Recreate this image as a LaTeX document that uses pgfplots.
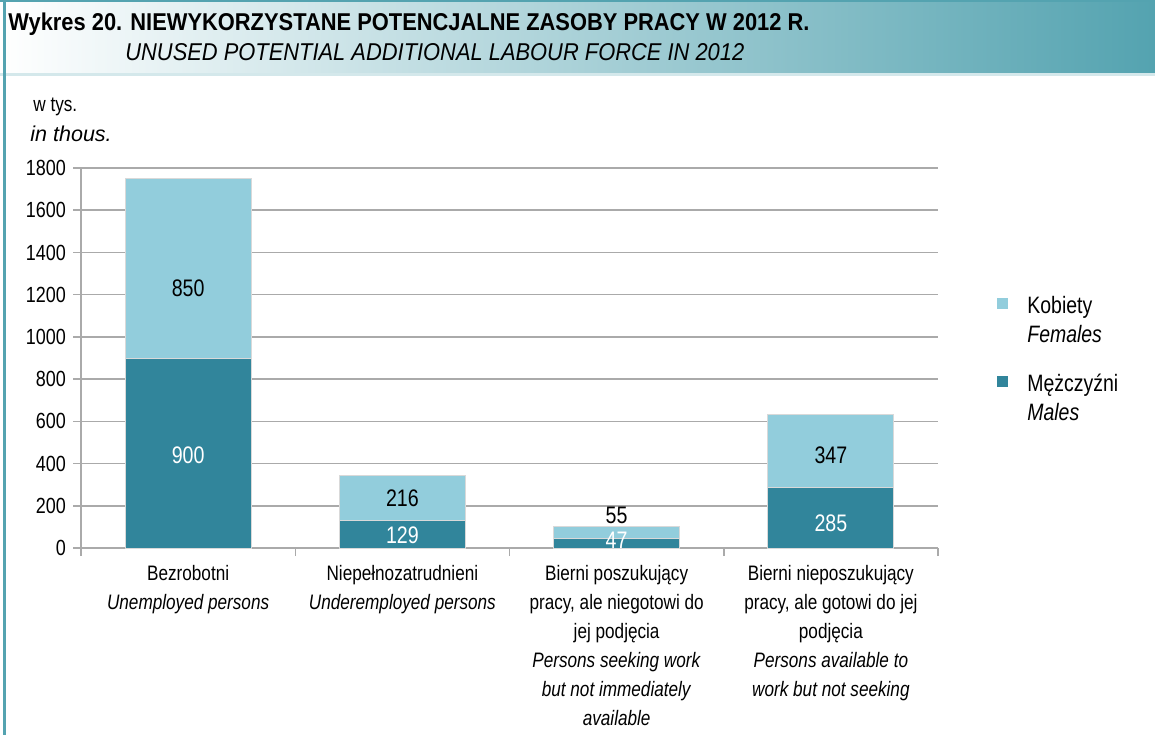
\documentclass[border=0pt]{standalone}
\usepackage{fontspec}
\setmainfont{Liberation Sans}[FakeStretch=0.82]
\newfontfamily\titlefont{Liberation Sans}[FakeStretch=0.9]
\newfontfamily\widefont{Liberation Sans}
\usepackage{pgfplots}
\pgfplotsset{compat=1.18}

\definecolor{males}{RGB}{49,133,155}
\definecolor{females}{RGB}{146,205,220}
\definecolor{hdr}{RGB}{84,163,176}
\definecolor{gridc}{RGB}{170,170,170}
\definecolor{barborder}{RGB}{217,217,217}

\newcommand{\lblfont}{\fontsize{10.5}{14.5}\selectfont}
\newcommand{\legfont}{\fontsize{11.9}{14.5}\selectfont}
\newcommand{\valfont}{\fontsize{12}{14}\selectfont}

\begin{document}
\begin{tikzpicture}
% frame, header and legend, pixel units (y down)
\begin{scope}[x=0.5bp,y=-0.5bp]
  \path (0,0) rectangle (1155,735);
  \shade[left color=white, middle color=hdr!45, right color=hdr] (0,0) rectangle (1155,73);
  \fill[hdr] (0,0) rectangle (1155,2);
  \fill[hdr!25] (0,73) rectangle (1155,76);
  \fill[hdr] (3,0) rectangle (6,735);
  \node[anchor=base west, inner sep=0pt, font=\titlefont\bfseries\fontsize{12.2}{14}\selectfont] at (8,30)
    {Wykres 20. NIEWYKORZYSTANE POTENCJALNE ZASOBY PRACY W 2012 R.};
  \node[anchor=base west, inner sep=0pt, font=\titlefont\itshape\fontsize{12.2}{14}\selectfont] at (125,60)
    {UNUSED POTENTIAL ADDITIONAL LABOUR FORCE IN 2012};
  \node[anchor=base west, inner sep=0pt, font=\lblfont] at (33,111) {w tys.};
  \node[anchor=base west, inner sep=0pt, font=\widefont\itshape\fontsize{10.8}{13}\selectfont] at (30,141) {in thous.};
  % legend
  \fill[females] (997,298) rectangle (1008,309);
  \node[anchor=base west, inner sep=0pt, font=\legfont] at (1027,313) {Kobiety};
  \node[anchor=base west, inner sep=0pt, font=\itshape\legfont] at (1027,342) {Females};
  \fill[males] (997,376) rectangle (1008,387);
  \node[anchor=base west, inner sep=0pt, font=\legfont] at (1027,391) {Mężczyźni};
  \node[anchor=base west, inner sep=0pt, font=\itshape\legfont] at (1027,420) {Males};
\end{scope}

\begin{axis}[
    at={(40.5bp,-274bp)}, anchor=south west,
    scale only axis,
    width=428.5bp, height=190bp,
    xmin=0.5, xmax=4.5,
    ymin=0, ymax=1800,
    ybar stacked,
    bar width=63bp,
    axis lines*=left,
    axis line style={gridc, line width=0.75bp},
    ytick={0,200,...,1800},
    ymajorgrids,
    grid style={gridc, line width=0.75bp},
    tick align=outside,
    major tick length=4bp,
    y tick style={gridc, line width=0.75bp},
    x tick style={gridc, line width=0.75bp},
    xtick={0.5,1.5,2.5,3.5,4.5},
    xticklabels={{},{},{},{},{}},
    extra x ticks={1,2,3,4},
    extra x tick labels={
      {Bezrobotni\\\textit{Unemployed persons}},
      {Niepełnozatrudnieni\\\textit{Underemployed persons}},
      {Bierni poszukujący\\pracy, ale niegotowi do\\jej podjęcia\\\textit{Persons seeking work}\\\textit{but not immediately}\\\textit{available}},
      {Bierni nieposzukujący\\pracy, ale gotowi do jej\\podjęcia\\\textit{Persons available to}\\\textit{work but not seeking}}
    },
    extra x tick style={major tick length=0pt,
      xticklabel style={align=center, font=\lblfont, inner sep=0pt, yshift=-8.5bp}},
    yticklabel style={font=\fontsize{11}{13}\selectfont},
    /pgf/number format/assume math mode=true,
    /pgf/number format/1000 sep={},
]
\addplot[fill=males, draw=barborder, line width=0.5bp] coordinates {(1,900) (2,129) (3,47) (4,285)};
\addplot[fill=females, draw=barborder, line width=0.5bp] coordinates {(1,850) (2,216) (3,55) (4,347)};
\end{axis}

% value labels in an overlaid, unstacked axis
\begin{axis}[
    at={(40.5bp,-274bp)}, anchor=south west,
    scale only axis,
    width=428.5bp, height=190bp,
    xmin=0.5, xmax=4.5,
    ymin=0, ymax=1800,
    axis lines=none,
    nodes near coords,
    point meta=explicit symbolic,
    every node near coord/.append style={anchor=center, inner sep=0pt, font=\valfont},
]
\addplot[draw=none, mark=none, every node near coord/.append style={text=white}]
  table[meta=lab] {
x y lab
1 440 900
2 62 129
3 38 47
4 118 285
};
\addplot[draw=none, mark=none, every node near coord/.append style={text=black}]
  table[meta=lab] {
x y lab
1 1232 850
2 237 216
3 156 55
4 440 347
};
\end{axis}
\end{tikzpicture}
\end{document}
